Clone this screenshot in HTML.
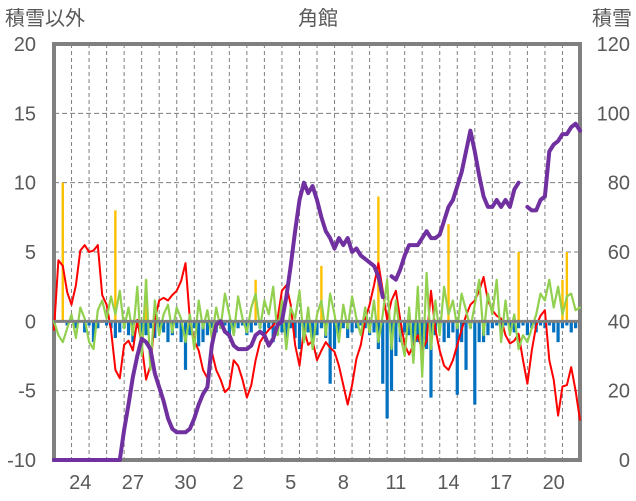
<!DOCTYPE html>
<html><head><meta charset="utf-8">
<style>
html,body{margin:0;padding:0;background:#fff;}
svg{display:block;font-family:"Liberation Sans","Noto Sans CJK JP",sans-serif;}
</style></head>
<body>
<svg id="chart" width="636" height="501" viewBox="0 0 636 501">
<text x="5" y="25" font-size="20" fill="#595959">積雪以外</text>
<text x="318" y="25" font-size="20" fill="#595959" text-anchor="middle">角館</text>
<text x="632" y="25" font-size="20" fill="#595959" text-anchor="end">積雪</text>
<g id="grid"></g>
<g id="bars"></g>
<g id="lines"></g>
<g id="axes"></g>
</svg>
<script>
const leftTicks=[20,15,10,5,0,-5,-10];
const rightTicks=[120,100,80,60,40,20,0];
const dayLabels=["24","27","30","2","5","8","11","14","17","20"];
const dayLabelIdx=[1,4,7,10,13,16,19,22,25,28];
const redSeries=[-0.6,4.4,4.0,2.1,1.2,2.6,5.1,5.5,5.0,5.1,5.5,1.9,1.2,-0.6,-3.5,-4.1,-1.7,-1.4,-2.1,0.1,-1.7,-4.2,-3.2,0.1,1.5,1.7,1.5,1.9,2.2,2.9,4.2,0.1,-1.4,-2.1,-3.5,-4.1,-2.2,-3.5,-4.2,-5.1,-4.8,-2.8,-3.2,-4.2,-5.5,-4.6,-2.8,-1.5,-1.0,-0.6,-0.3,0.2,2.2,2.6,1.2,-1.7,-3.2,-0.6,-1.7,-1.4,-2.8,-2.1,-1.5,-1.9,-2.2,-3.2,-4.6,-6.0,-4.6,-2.7,-1.7,0.1,1.2,2.6,4.2,2.2,0.1,1.5,2.2,0.1,-1.7,-2.4,-1.7,-1.0,-2.1,-1.4,2.2,-0.6,-2.1,-3.2,-3.5,-2.8,-1.7,-0.6,0.4,1.2,1.5,2.2,3.2,1.5,0.8,0.4,0.2,-1.0,-1.6,-1.4,-0.9,-2.8,-4.5,-2.1,-0.3,0.4,0.8,-2.8,-4.2,-6.8,-4.7,-4.6,-3.3,-5.0,-7.1];
const greenSeries=[0.0,-1.0,-1.5,-0.5,0.5,-1.2,1.0,0.2,-1.5,-2.0,0.8,1.5,0.2,1.8,0.5,2.2,-0.5,1.0,-1.0,2.5,-2.5,3.0,-3.5,1.5,-1.0,0.5,1.2,-0.8,1.0,0.2,-1.5,0.5,-2.0,1.5,-0.5,0.8,-1.2,1.0,-0.5,2.0,0.5,-1.0,1.8,0.2,-0.8,1.0,2.0,-0.5,1.5,0.5,2.5,-1.0,1.5,-2.0,1.0,0.2,2.2,-1.5,1.0,-2.0,0.5,1.5,-1.0,2.0,0.5,-1.5,1.2,-0.5,1.8,0.2,-1.0,1.0,-0.8,1.5,-1.5,0.5,3.0,-2.0,1.5,-1.0,-2.5,1.0,-3.0,2.5,-4.0,3.5,-2.0,1.5,-1.0,2.5,0.5,1.5,-0.5,2.0,0.8,-0.5,1.2,3.0,-1.0,2.0,0.5,3.0,-1.5,1.5,-1.0,0.5,-2.0,-1.0,-1.5,-0.5,0.5,2.0,1.5,3.0,1.0,2.5,0.5,1.8,2.0,0.8,1.0];
const snowDepth=[0,0,0,0,0,0,0,0,0,0,0,0,0,0,0,0,8.6,16,24,30,35,34,32,25,21,17,12,9,8,8,8,9,12,16,19,21,33,39,40,37,36,33,32,32,32,33,36,37,36,33,35,39,40,47,56,66,75,80,77,79,75,70,66,64,61,64,62,64,60,61,59,58,57,56,53,47,null,53,52,55,59,62,62,62,64,66,64,64,65,69,73,75,79,83,89,95,89,82,76,73,73,75,73,75,73,78,80,null,73,72,72,75,76,89,91,92,94,94,96,97,95];
const blueBars=[0,0,0,-0.3,0,-0.5,0,-0.8,-0.3,-1.5,-0.5,0,-0.3,-0.5,-1.2,-0.8,-0.5,-1.0,-1.5,-0.5,-0.8,-1.0,-0.5,-1.2,-0.5,-0.8,-1.5,-1.0,-0.5,-1.5,-3.5,-1.0,-0.5,-1.8,-1.5,-1.0,-0.5,-0.8,-0.5,-0.3,-1.2,-0.8,-0.5,-0.3,-1.0,-0.8,-0.3,-0.5,-1.0,-0.5,-1.5,-1.0,-0.8,-1.5,-0.5,-1.2,-2.0,-1.0,-0.8,-1.5,-1.0,-0.5,-1.2,-4.5,-2.0,-1.0,-0.5,-1.2,-0.8,-0.5,-0.3,-0.5,-1.0,-0.8,-2.0,-4.5,-7.0,-5.0,-2.5,-1.5,-0.8,-1.0,-2.5,-1.5,-2.0,-2.0,-5.5,-1.0,-0.5,-1.5,-1.2,-0.8,-5.3,-1.5,-3.5,-0.5,-6.0,-1.5,-1.5,-1.0,-0.5,-0.3,-0.8,-0.3,-0.5,-0.8,-0.5,-0.3,-1.0,-0.5,-0.8,-0.3,-0.5,-0.3,-0.8,-1.5,-0.5,-0.3,-0.8,-0.5,0];
const orangeIdx=[2,14,21,46,61,74,90,106,116,117];
const orangeVals=[10,8,3,3,4,9,7,5,3,5];

const NS="http://www.w3.org/2000/svg";
const X0=54,X1=580,Y0=44,Y1=460,N=120,DAYS=30;
const xAt=i=>X0+i*(X1-X0)/N;
const yL=v=>Y1-(v+10)*(Y1-Y0)/30;
const yR=v=>Y1-v*(Y1-Y0)/120;
function mk(tag,attrs,parent){const e=document.createElementNS(NS,tag);for(const k in attrs)e.setAttribute(k,attrs[k]);parent.appendChild(e);return e;}
const grid=document.getElementById('grid'),bars=document.getElementById('bars'),lines=document.getElementById('lines'),axes=document.getElementById('axes');

for(let d=1;d<DAYS;d++){const x=X0+d*(X1-X0)/DAYS;
 const l=mk('line',{x1:x,x2:x,y1:Y0,y2:Y1,stroke:'#7f7f7f','stroke-width':1,'stroke-dasharray':'4,3'},grid);
 
 }
leftTicks.forEach((t,k)=>{const y=yL(t);
 if(t>-10&&t<20&&t!==0){const l=mk('line',{x1:X0,x2:X1,y1:y,y2:y,stroke:'#7f7f7f','stroke-width':1,'stroke-dasharray':'5,3'},grid);
 
 }
 const tx=mk('text',{x:36,y:y+7,'font-size':20,fill:'#595959','text-anchor':'end'},axes);tx.textContent=t;
 
 });
rightTicks.forEach(t=>{const tx=mk('text',{x:630,y:yR(t)+7,'font-size':20,fill:'#595959','text-anchor':'end'},axes);tx.textContent=t;
 
 });
dayLabels.forEach((s,k)=>{const x=X0+(dayLabelIdx[k]+0.5)*(X1-X0)/DAYS;
 const tx=mk('text',{x:x,y:489,'font-size':20,fill:'#595959','text-anchor':'middle'},axes);tx.textContent=s;
 
 });
const fr=mk('rect',{x:X0,y:Y0,width:X1-X0,height:Y1-Y0,fill:'none',stroke:'#808080','stroke-width':4},grid);



blueBars.forEach((v,i)=>{if(!v)return;const y0=yL(0),y=yL(v);
 const r=mk('rect',{x:xAt(i)-1.6,y:y0,width:3.2,height:y-y0,fill:'#0070c0'},bars);
 
 });
orangeIdx.forEach((i,k)=>{const y0=yL(0),y=yL(orangeVals[k]);
 const r=mk('rect',{x:xAt(i)-1.2,y:y,width:2.4,height:y0-y,fill:'#ffc000'},bars);
 
 });

function path(arr,yf,color,w,name){let d='',pen=false;
 arr.forEach((v,i)=>{if(v===null){pen=false;return;}d+=(pen?'L':'M')+xAt(i).toFixed(1)+','+yf(v).toFixed(1);pen=true;});
 const p=mk('path',{d:d,fill:'none',stroke:color,'stroke-width':w,'stroke-linejoin':'round','stroke-linecap':'round'},lines);
 
 }
path(redSeries,yL,'#ff0000',2,'temperature-line');
path(greenSeries,yL,'#92d050',2.2,'green-series-line');
const zl=mk('line',{x1:X0,x2:X1,y1:yL(0),y2:yL(0),stroke:'#808080','stroke-width':3},lines);


path(snowDepth,yR,'#7030a0',4,'snow-depth-line');
</script>
</body></html>
